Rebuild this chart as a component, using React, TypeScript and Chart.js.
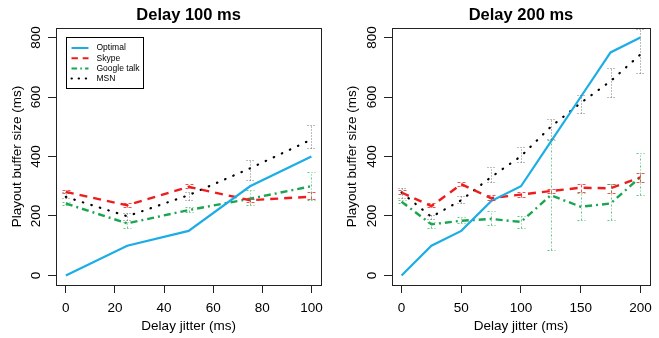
import React, { useEffect, useRef } from "react";
import { Chart, registerables } from "chart.js";

Chart.register(...registerables);

const FONT = "'Liberation Sans', Arial, Helvetica, sans-serif";

// ---- Data ----
const seriesLabels = ["Optimal", "Skype", "Google talk", "MSN"];
const yTickValues = [0, 200, 400, 600, 800];

// Panel 1: Delay 100 ms
const title100 = "Delay 100 ms";
const jitter100 = [0, 25, 50, 75, 100];
const xTicks100 = [0, 20, 40, 60, 80, 100];
const optimal100 = [0, 100, 150, 300, 400];
const skype100 = [281, 236, 298, 253, 265];
const skype100Lo = [276, 231, 293, 247, 256];
const skype100Hi = [287, 242, 306, 258, 279];
const google100 = [242, 175, 220, 258, 300];
const google100Lo = [236, 161, 213, 236, 253];
const google100Hi = [248, 181, 229, 289, 348];
const msn100 = [264, 199, 270, 360, 457];
const msn100Lo = [259, 186, 253, 320, 427];
const msn100Hi = [281, 210, 281, 388, 505];

// Panel 2: Delay 200 ms
const title200 = "Delay 200 ms";
const jitter200 = [0, 25, 50, 75, 100, 125, 150, 175, 200];
const xTicks200 = [0, 50, 100, 150, 200];
const optimal200 = [0, 100, 150, 250, 300, 450, 600, 750, 800];
const skype200 = [279, 233, 307, 260, 272, 284, 295, 293, 330];
const skype200Lo = [273, 229, 300, 253, 264, 276, 281, 276, 315];
const skype200Hi = [286, 242, 313, 270, 279, 292, 309, 307, 345];
const google200 = [248, 172, 184, 190, 180, 270, 231, 242, 331];
const google200Lo = [242, 161, 175, 169, 158, 85, 186, 186, 270];
const google200Hi = [255, 180, 197, 216, 199, 455, 276, 307, 412];
const msn200 = [279, 197, 253, 331, 401, 500, 580, 653, 743];
const msn200Lo = [259, 190, 244, 315, 382, 460, 545, 600, 681];
const msn200Hi = [294, 205, 266, 365, 432, 525, 606, 698, 830];

const COL_OPT = "#1CADE7";
const COL_SKY = "#EE1D1D";
const COL_GOO = "#1AA550";
const COL_MSN = "#000000";

function pts(xs: number[], ys: number[]) {
  return xs.map((x, i) => ({ x, y: ys[i] }));
}

function buildDatasets(
  xs: number[],
  opt: number[],
  sk: number[], skLo: number[], skHi: number[],
  go: number[], goLo: number[], goHi: number[],
  ms: number[], msLo: number[], msHi: number[]
) {
  return [
    {
      label: seriesLabels[0], data: pts(xs, opt), borderColor: COL_OPT, borderWidth: 2.2,
      borderDash: [], pointRadius: 0, fill: false, tension: 0,
    },
    {
      label: seriesLabels[1], data: pts(xs, sk), borderColor: COL_SKY, borderWidth: 2.4,
      borderDash: [8, 6], pointRadius: 0, fill: false, tension: 0,
      errLo: skLo, errHi: skHi, errColor: "rgba(238,40,40,0.8)", errDash: [3, 2],
    },
    {
      label: seriesLabels[2], data: pts(xs, go), borderColor: COL_GOO, borderWidth: 2.4,
      borderDash: [7, 4, 2, 4], pointRadius: 0, fill: false, tension: 0,
      errLo: goLo, errHi: goHi, errColor: "rgba(40,180,90,0.75)", errDash: [2, 2, 1, 2],
    },
    {
      label: seriesLabels[3], data: pts(xs, ms), borderColor: COL_MSN, borderWidth: 2.2,
      borderDash: [0.5, 8.4], borderCapStyle: "round", pointRadius: 0, fill: false, tension: 0,
      errLo: msLo, errHi: msHi, errColor: "rgba(90,90,90,0.8)", errDash: [1, 2],
    },
  ];
}

const errorBarPlugin = {
  id: "errorBars",
  afterDatasetsDraw(chart: any) {
    const { ctx } = chart;
    const xs = chart.scales.x;
    const ys = chart.scales.y;
    chart.data.datasets.forEach((ds: any) => {
      if (!ds.errLo) return;
      ctx.save();
      ctx.strokeStyle = ds.errColor;
      ctx.lineWidth = 1;
      ctx.setLineDash(ds.errDash);
      ds.data.forEach((p: any, j: number) => {
        const px = Math.round(xs.getPixelForValue(p.x)) + 0.5;
        const yl = Math.round(ys.getPixelForValue(ds.errLo[j])) + 0.5;
        const yh = Math.round(ys.getPixelForValue(ds.errHi[j])) + 0.5;
        ctx.beginPath();
        ctx.moveTo(px, yl);
        ctx.lineTo(px, yh);
        ctx.moveTo(px - 4, yl);
        ctx.lineTo(px + 4, yl);
        ctx.moveTo(px - 4, yh);
        ctx.lineTo(px + 4, yh);
        ctx.stroke();
      });
      ctx.restore();
    });
  },
};

const framePlugin = {
  id: "frame",
  afterDraw(chart: any, _args: any, opts: any) {
    const { ctx, chartArea: a } = chart;
    ctx.save();
    ctx.setLineDash([]);
    ctx.strokeStyle = "#222";
    ctx.lineWidth = 1;
    const l = Math.round(a.left) + 0.5;
    const t = Math.round(a.top) + 0.5;
    const r = Math.round(a.right) + 0.5;
    const b = Math.round(a.bottom) + 0.5;
    ctx.strokeRect(l, t, r - l, b - t);

    // rotated y tick labels (R style)
    const ys = chart.scales.y;
    ctx.fillStyle = "#000";
    ctx.font = `13.5px ${FONT}`;
    ctx.textAlign = "center";
    ctx.textBaseline = "middle";
    ys.ticks.forEach((tk: any) => {
      const py = ys.getPixelForValue(tk.value);
      ctx.save();
      ctx.translate(a.left - opts.yLabelOffset, py);
      ctx.rotate(-Math.PI / 2);
      ctx.fillText(String(tk.value), 0, 0);
      ctx.restore();
    });

    if (opts.legend) {
      const bx = Math.round(a.left) + 10.5;
      const by = Math.round(a.top) + 9.5;
      ctx.strokeStyle = "#000";
      ctx.lineWidth = 1;
      ctx.strokeRect(bx, by, 77, 51);
      ctx.font = `8.5px ${FONT}`;
      ctx.textAlign = "left";
      ctx.textBaseline = "middle";
      chart.data.datasets.forEach((ds: any, i: number) => {
        const ry = by + 10.5 + i * 10.2;
        ctx.save();
        ctx.strokeStyle = ds.borderColor;
        ctx.lineWidth = Math.min(ds.borderWidth, 2);
        ctx.lineCap = ds.borderCapStyle || "butt";
        const d = ds.borderDash || [];
        ctx.setLineDash(d.map((v: number) => v * 0.8));
        ctx.beginPath();
        ctx.moveTo(bx + 5, ry);
        ctx.lineTo(bx + 22, ry);
        ctx.stroke();
        ctx.restore();
        ctx.fillStyle = "#000";
        ctx.fillText(ds.label, bx + 30, ry);
      });
    }
    ctx.restore();
  },
};

type PanelProps = {
  width: number;
  left: number;
  title: string;
  datasets: any[];
  xMin: number;
  xMax: number;
  xTicks: number[];
  yAxisWidth: number;
  yTitlePad: number;
  rightPad: number;
  legend: boolean;
};

function Panel(p: PanelProps) {
  const ref = useRef<HTMLCanvasElement | null>(null);
  useEffect(() => {
    if (!ref.current) return;
    const chart = new Chart(ref.current, {
      type: "line",
      data: { datasets: p.datasets },
      options: {
        responsive: false,
        animation: false,
        layout: { padding: { left: 0, right: p.rightPad, top: 0, bottom: 0 } },
        plugins: {
          legend: { display: false },
          tooltip: { enabled: false },
          title: {
            display: true,
            text: p.title,
            fullSize: false,
            color: "#000",
            font: { family: FONT, size: 16.5, weight: "bold", lineHeight: 1.2 },
            padding: { top: 5.3, bottom: 2.9 },
          },
          frame: { legend: p.legend, yLabelOffset: 20 },
        } as any,
        scales: {
          x: {
            type: "linear",
            min: p.xMin,
            max: p.xMax,
            afterBuildTicks: (s: any) => {
              s.ticks = p.xTicks.map((v) => ({ value: v }));
            },
            afterFit: (s: any) => {
              s.height = 53;
            },
            ticks: {
              color: "#000",
              font: { family: FONT, size: 13.5 },
              padding: 7,
              maxRotation: 0,
              autoSkip: false,
            },
            grid: {
              display: true,
              drawOnChartArea: false,
              drawTicks: true,
              tickLength: 8,
              color: "#222",
              lineWidth: 1,
            },
            border: { display: false },
            title: {
              display: true,
              text: "Delay jitter (ms)",
              color: "#000",
              font: { family: FONT, size: 13.5, lineHeight: 1.2 },
              padding: { top: 0, bottom: 3.6 },
            },
          },
          y: {
            type: "linear",
            min: -32,
            max: 832,
            afterBuildTicks: (s: any) => {
              s.ticks = yTickValues.map((v) => ({ value: v }));
            },
            afterFit: (s: any) => {
              s.width = p.yAxisWidth;
            },
            ticks: { display: false },
            grid: {
              display: true,
              drawOnChartArea: false,
              drawTicks: true,
              tickLength: 8,
              color: "#222",
              lineWidth: 1,
            },
            border: { display: false },
            title: {
              display: true,
              text: "Playout buffer size (ms)",
              color: "#000",
              font: { family: FONT, size: 13.5, lineHeight: 1.2 },
              padding: { top: p.yTitlePad, bottom: 0 },
            },
          },
        },
      } as any,
      plugins: [errorBarPlugin, framePlugin],
    });
    return () => chart.destroy();
  }, []);
  return (
    <canvas
      ref={ref}
      width={p.width}
      height={338}
      style={{ position: "absolute", left: p.left, top: 0, width: p.width, height: 338, display: "block" }}
    />
  );
}

export default function App() {
  const ds100 = buildDatasets(
    jitter100, optimal100,
    skype100, skype100Lo, skype100Hi,
    google100, google100Lo, google100Hi,
    msn100, msn100Lo, msn100Hi
  );
  const ds200 = buildDatasets(
    jitter200, optimal200,
    skype200, skype200Lo, skype200Hi,
    google200, google200Lo, google200Hi,
    msn200, msn200Lo, msn200Hi
  );
  return (
    <div style={{ position: "absolute", left: 0, top: 0, width: 659, height: 338, background: "#fff", overflow: "hidden" }}>
      <Panel
        width={330} left={0} title={title100} datasets={ds100}
        xMin={-4} xMax={104} xTicks={xTicks100}
        yAxisWidth={56} yTitlePad={9.5} rightPad={8} legend={true}
      />
      <Panel
        width={329} left={330} title={title200} datasets={ds200}
        xMin={-8} xMax={208} xTicks={xTicks200}
        yAxisWidth={62} yTitlePad={14} rightPad={1} legend={false}
      />
    </div>
  );
}
